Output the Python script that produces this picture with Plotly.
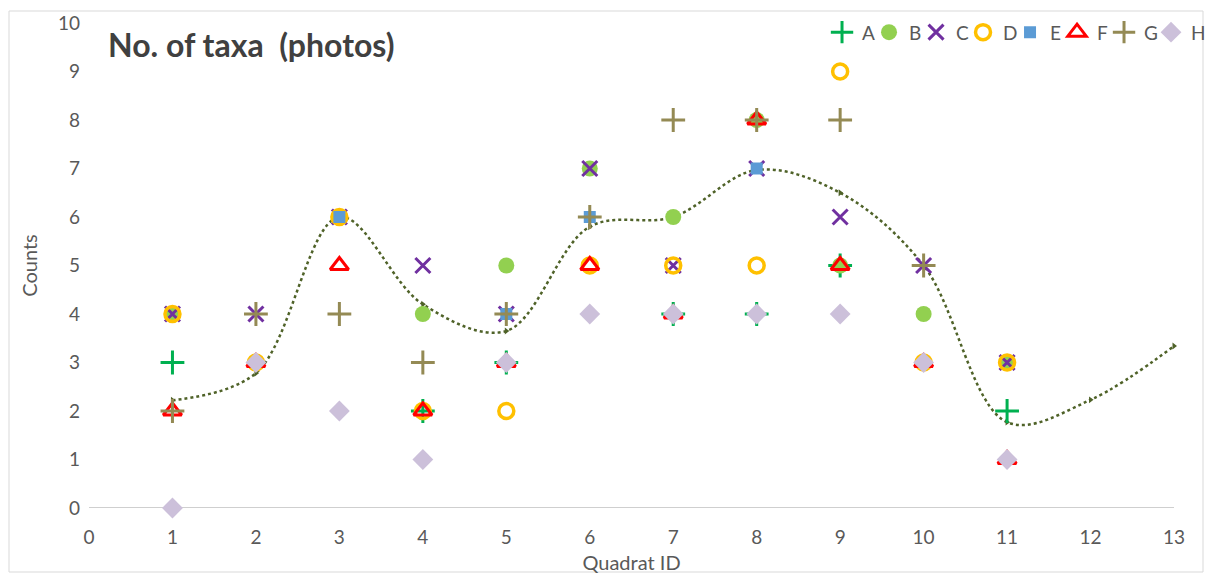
import plotly.graph_objects as go

quadrats = [1, 2, 3, 4, 5, 6, 7, 8, 9, 10, 11]
A = [3, None, None, 2, 3, None, 4, 4, 5, None, 2]
B = [4, None, 6, 4, 5, 7, 6, 8, 5, 4, 3]
C = [4, 4, 6, 5, 4, 7, 5, 7, 6, 5, 3]
D = [4, 3, 6, 2, 2, 5, 5, 5, 9, 3, 3]
E = [None, None, 6, None, 4, 6, None, 7, None, None, None]
F = [2, 3, 5, 2, 3, 5, 4, 8, 5, 3, 1]
G = [2, 4, 4, 3, 4, 6, 8, 8, 8, 5, None]
H = [0, 3, 2, 1, 3, 4, 4, 4, 4, 3, 1]

trend_x = [1, 2, 3, 4, 5, 6, 7, 8, 9, 10, 11, 12, 13]
trend_y = [2.22, 2.78, 6.0, 4.2, 3.65, 5.8, 6.0, 6.97, 6.5, 5.0, 1.77, 2.23, 3.34]

series = [
    ("A", A, dict(symbol="cross-thin", size=17, line=dict(color="#00B050", width=3), color="#00B050")),
    ("B", B, dict(symbol="circle", size=16, color="#92D050", line=dict(width=0))),
    ("C", C, dict(symbol="x-thin", size=15, line=dict(color="#7030A0", width=3), color="#7030A0")),
    ("D", D, dict(symbol="circle-open", size=15, line=dict(color="#FFC000", width=3.5), color="#FFC000")),
    ("E", E, dict(symbol="square", size=12, color="#5B9BD5", line=dict(width=0))),
    ("F", F, dict(symbol="triangle-up-open", size=16, line=dict(color="#FF0000", width=3), color="#FF0000")),
    ("G", G, dict(symbol="cross-thin", size=17, line=dict(color="#948A54", width=3), color="#948A54")),
    ("H", H, dict(symbol="diamond", size=16, color="#CCC0DA", line=dict(width=0))),
]

fig = go.Figure()
fig.add_trace(go.Scatter(
    x=trend_x, y=trend_y, mode="lines+markers", showlegend=False, cliponaxis=False,
    line=dict(color="#4F6228", width=2.5, dash="dot", shape="spline", smoothing=1.0),
    marker=dict(symbol="triangle-right", size=6, color="#4F6228"),
))
for name, vals, mk in series:
    fig.add_trace(go.Scatter(x=quadrats, y=vals, mode="markers", name=name, marker=mk,
                             cliponaxis=False))
# empty spacer entry so the last legend label is not clipped
fig.add_trace(go.Scatter(x=[None], y=[None], mode="markers", name=" ", showlegend=True,
                         marker=dict(color="rgba(0,0,0,0)"), hoverinfo="skip"))

font = "Lato, 'Open Sans', sans-serif"
# page body has an 8px margin; keep the whole figure inside the 1213x582 window
W, H_ = 1197, 566
ml, mr, mt, mb = 81, 31, 15, 66
pw, ph = W - ml - mr, H_ - mt - mb

fig.update_layout(
    width=W, height=H_,
    margin=dict(l=ml, r=mr, t=mt, b=mb, autoexpand=False),
    paper_bgcolor="white", plot_bgcolor="white",
    font=dict(family=font, size=18, color="#595959"),
    legend=dict(orientation="h", x=0.6756, xanchor="left", y=1.02, yanchor="top",
                bgcolor="rgba(0,0,0,0)", font=dict(size=19, color="#595959"),
                itemwidth=30, tracegroupgap=0, entrywidth=2),
    xaxis=dict(range=[0, 13], tickmode="linear", tick0=0, dtick=1, showgrid=False,
               zeroline=False, showline=False, ticks="", automargin=False,
               ticklabelstandoff=16,
               title=dict(text="Quadrat ID", font=dict(size=20, color="#595959"), standoff=17),
               tickfont=dict(size=19, color="#595959")),
    yaxis=dict(range=[0, 10], tickmode="linear", tick0=0, dtick=1, showgrid=False,
               zeroline=False, showline=False, ticks="", automargin=False,
               ticklabelstandoff=8,
               title=dict(text="Counts", font=dict(size=20, color="#595959"), standoff=14),
               tickfont=dict(size=19, color="#595959")),
    annotations=[dict(text="<b>No. of taxa  (photos)</b>", xref="paper", yref="paper",
                      x=0.016, y=1.0, xanchor="left", yanchor="top", showarrow=False,
                      font=dict(size=32, color="#404040", family=font))],
    shapes=[
        dict(type="line", xref="paper", yref="y", x0=0, x1=1, y0=0, y1=0,
             line=dict(color="#BFBFBF", width=1.5), layer="below"),
        dict(type="rect", xref="paper", yref="paper",
             x0=(1 - ml) / pw, x1=(W - 2 - ml) / pw,
             y0=-(mb - 2) / ph, y1=1 + (mt - 3) / ph,
             line=dict(color="#D9D9D9", width=1)),
    ],
)

fig.write_html("out.html")
